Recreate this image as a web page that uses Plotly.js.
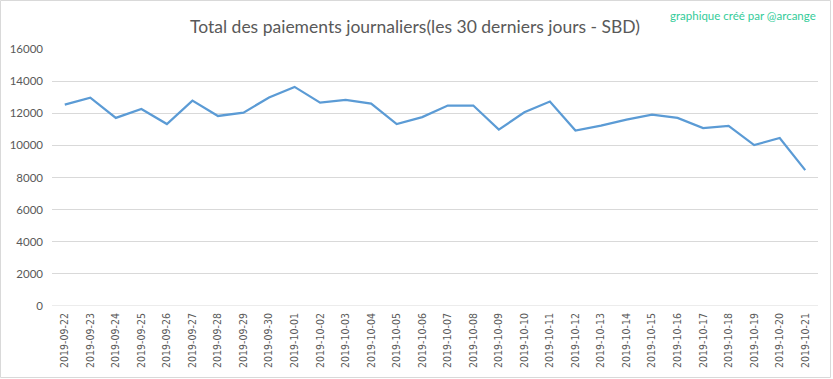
<!DOCTYPE html>
<html>
<head>
<meta charset="utf-8">
<script src="https://cdn.plot.ly/plotly-3.0.1.min.js"></script>
<style>html,body{margin:0;padding:0;background:#fff;}#chart{width:833px;height:379px;}</style>
</head>
<body>
<div id="chart"></div>
<script>
const dates = ["2019-09-22","2019-09-23","2019-09-24","2019-09-25","2019-09-26","2019-09-27","2019-09-28","2019-09-29","2019-09-30","2019-10-01","2019-10-02","2019-10-03","2019-10-04","2019-10-05","2019-10-06","2019-10-07","2019-10-08","2019-10-09","2019-10-10","2019-10-11","2019-10-12","2019-10-13","2019-10-14","2019-10-15","2019-10-16","2019-10-17","2019-10-18","2019-10-19","2019-10-20","2019-10-21"];
const payments = [12540,12970,11710,12270,11330,12790,11830,12040,12980,13640,12660,12830,12600,11330,11760,12480,12480,10980,12060,12730,10920,11230,11600,11910,11710,11080,11210,10020,10460,8460];
const yTicks = [0,2000,4000,6000,8000,10000,12000,14000,16000];
const titleText = "Total des paiements journaliers(les 30 derniers jours - SBD)";
const creditText = "graphique créé par @arcange";

const W = 833, H = 379, ml = 52, mr = 15, mt = 49, mb = 73;
const pw = W - ml - mr, ph = H - mt - mb;
const px = v => (v - ml) / pw;
const py = v => (H - mb - v) / ph;

Plotly.newPlot('chart', [{
  x: dates, y: payments, type: 'scatter', mode: 'lines',
  line: {color: '#5b9bd5', width: 2.25}, hoverinfo: 'x+y'
}], {
  width: W, height: H,
  margin: {l: ml, r: mr, t: mt, b: mb, pad: 0},
  paper_bgcolor: '#fff', plot_bgcolor: '#fff',
  font: {family: 'Lato, "Open Sans", sans-serif', color: '#595959', size: 11},
  title: {text: titleText, font: {size: 17.5, color: '#595959', family: 'Lato, sans-serif'}, x: 415 / W, xanchor: 'center', y: 1 - 27 / H, yanchor: 'middle'},
  showlegend: false,
  xaxis: {type: 'category', range: [-0.5, dates.length - 0.5], showgrid: false, zeroline: false, showline: false,
    tickangle: -90, ticks: '', tickfont: {size: 10.5, color: '#595959', family: '"DejaVu Sans Condensed", "Liberation Sans", sans-serif'}, ticklabelstandoff: 4},
  yaxis: {range: [0, 16000], tickvals: yTicks, ticktext: yTicks.map(String), showgrid: true, gridcolor: '#d9d9d9', gridwidth: 1,
    zeroline: false, showline: false, ticks: '', tickfont: {size: 11.5, color: '#595959'}, ticklabelstandoff: 8},
  shapes: [
    {type: 'line', xref: 'paper', yref: 'y', x0: 0, x1: 1, y0: 0, y1: 0, line: {color: '#d9d9d9', width: 1}, layer: 'below'},
    {type: 'rect', xref: 'paper', yref: 'paper', x0: px(0.5), x1: px(830.5), y0: py(377.5), y1: py(0.5), line: {color: '#d9d9d9', width: 1}, fillcolor: 'rgba(0,0,0,0)'}
  ],
  annotations: [{text: creditText, xref: 'paper', yref: 'paper', x: px(743), y: py(15), xanchor: 'center', yanchor: 'middle', showarrow: false,
    font: {size: 11.5, color: '#33cc99', family: 'Lato, sans-serif'}}]
}, {displayModeBar: false, staticPlot: true});
</script>
</body>
</html>
